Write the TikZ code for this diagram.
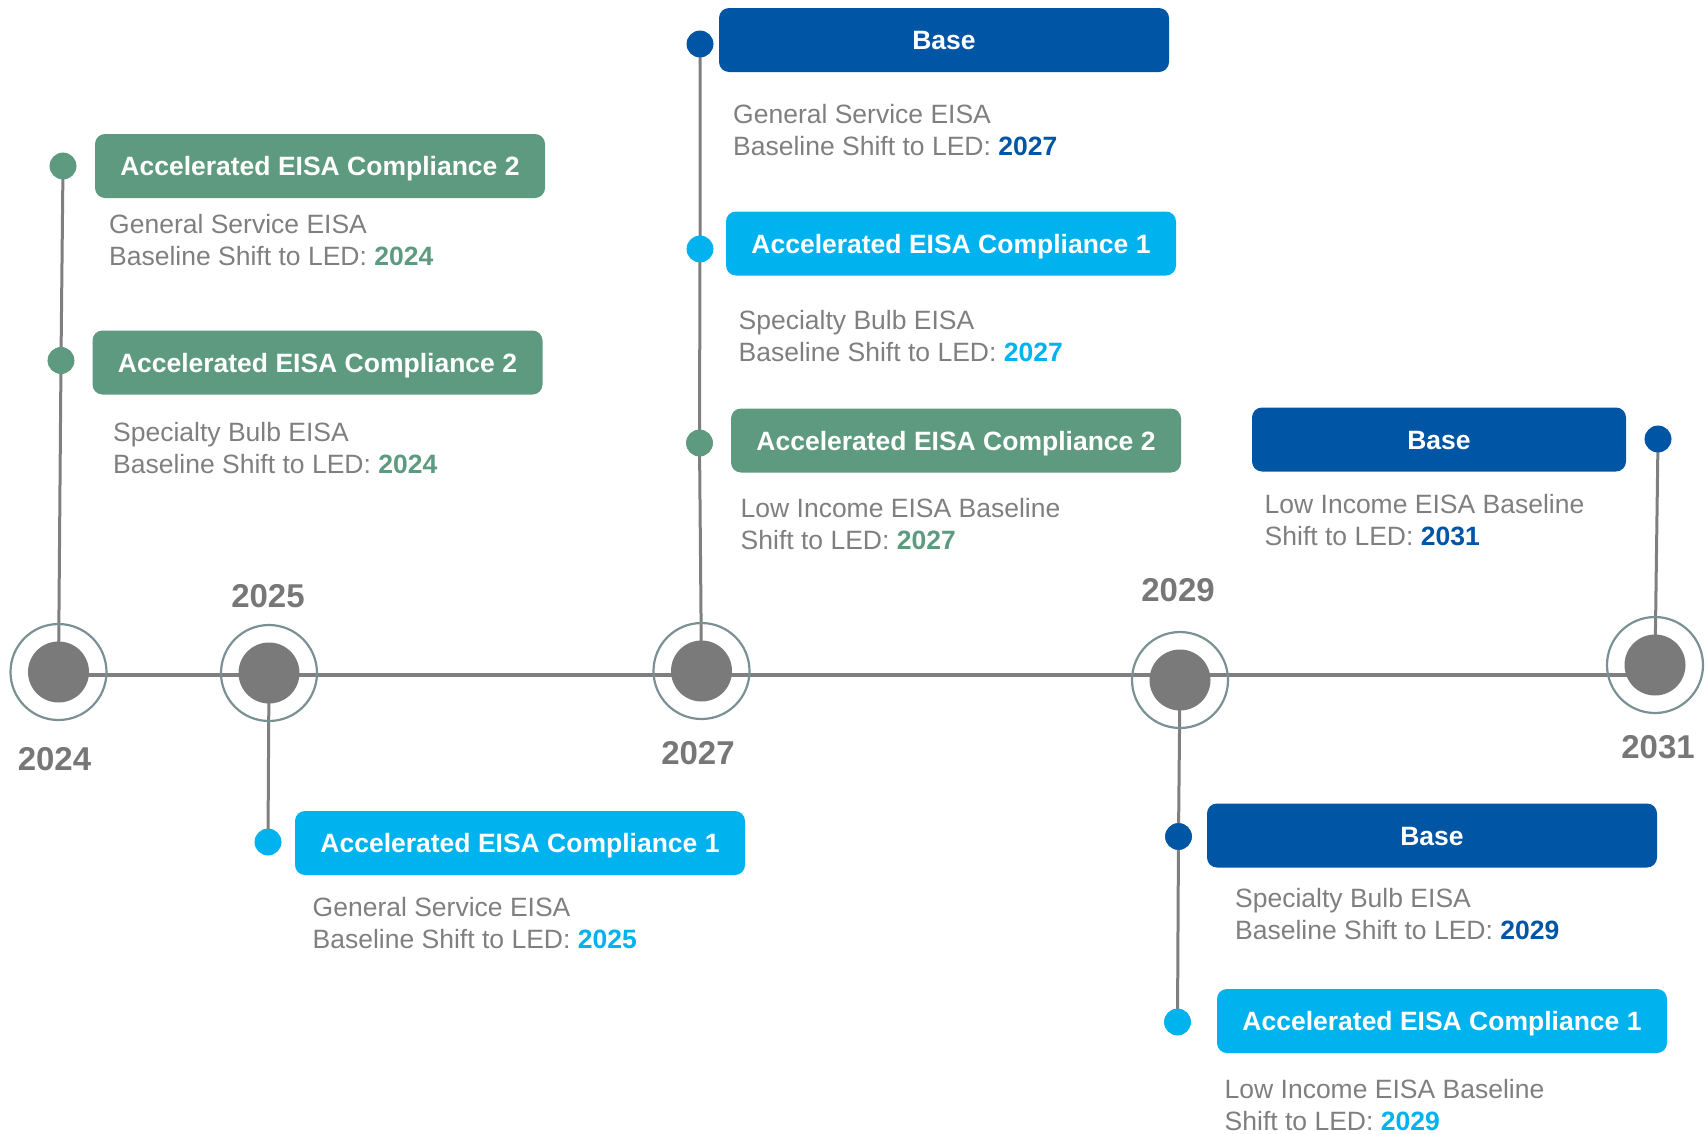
\documentclass[tikz,border=0pt]{standalone}
\usepackage{fontspec}
\setmainfont{Liberation Sans}
\definecolor{cgreen}{HTML}{5E9A7F}
\definecolor{cblue}{HTML}{0055A5}
\definecolor{ccyan}{HTML}{00B2EE}
\definecolor{txtgray}{HTML}{7F7F7F}
\definecolor{linegray}{HTML}{7F7F7F}
\definecolor{hubgray}{HTML}{7A7A7A}
\definecolor{ringc}{HTML}{7A9194}
\definecolor{yeargray}{HTML}{777777}
\begin{document}
\begin{tikzpicture}[x=1pt,y=-1pt,
  boxnode/.style={rounded corners=10pt, minimum width=450pt, minimum height=64pt, inner sep=0pt, text height=19pt, text depth=0pt, text=white, font=\fontsize{26.5}{32}\selectfont\bfseries},
  desc/.style={anchor=north west, align=left, inner sep=0pt, text=txtgray, font=\fontsize{26.5}{32}\selectfont},
  dotnode/.style={circle, minimum size=26.6pt, inner sep=0pt},
  ringnode/.style={circle, draw=ringc, line width=2.2pt, minimum size=96pt, inner sep=0pt},
  hubnode/.style={circle, fill=hubgray, minimum size=61pt, inner sep=0pt},
  yearnode/.style={inner sep=0pt, text=yeargray, font=\fontsize{33}{36}\selectfont\bfseries},
  hline/.style={draw=linegray, line width=4pt},
  vline/.style={draw=linegray, line width=3pt}
]
\useasboundingbox (0,0) rectangle (1708,1133);

% hubs (coordinates)
\coordinate (h24) at (58.5,672);
\coordinate (h25) at (269,673);
\coordinate (h27) at (701.5,671);
\coordinate (h29) at (1180,680);
\coordinate (h31) at (1655,665);

% end points of horizontal line
\coordinate (lstart) at (58.5,675);
\coordinate (lend) at (1655,675);
\draw[hline] (lstart) -- (lend);

% dots (positions)
\node[dotnode, fill=cgreen] (d24a) at (63,166) {};
\node[dotnode, fill=cgreen] (d24b) at (61,360.5) {};
\node[dotnode, fill=ccyan] (d25) at (268,842) {};
\node[dotnode, fill=cblue] (d27a) at (700,44) {};
\node[dotnode, fill=ccyan] (d27b) at (700,249) {};
\node[dotnode, fill=cgreen] (d27c) at (699.5,443) {};
\node[dotnode, fill=cblue] (d29a) at (1178.5,836.5) {};
\node[dotnode, fill=ccyan] (d29b) at (1177.5,1022) {};
\node[dotnode, fill=cblue] (d31) at (1658,439) {};

% vertical lines
\draw[vline] (h24) -- (d24b.center) -- (d24a.center);
\draw[vline] (h25) -- (d25.center);
\draw[vline] (h27) -- (d27c.center) -- (d27b.center) -- (d27a.center);
\draw[vline] (h29) -- (d29a.center) -- (d29b.center);
\draw[vline] (h31) -- (d31.center);

% rings and hubs
\node[ringnode] (r24) at (h24) {};
\node[ringnode] (r25) at (h25) {};
\node[ringnode] (r27) at (h27) {};
\node[ringnode] (r29) at (h29) {};
\node[ringnode] (r31) at (h31) {};
\node[hubnode] (c24) at (h24) {};
\node[hubnode] (c25) at (h25) {};
\node[hubnode] (c27) at (h27) {};
\node[hubnode] (c29) at (h29) {};
\node[hubnode] (c31) at (h31) {};

% redraw dots on top of lines
\node[dotnode, fill=cgreen] at (d24a) {};
\node[dotnode, fill=cgreen] at (d24b) {};
\node[dotnode, fill=ccyan] at (d25) {};
\node[dotnode, fill=cblue] at (d27a) {};
\node[dotnode, fill=ccyan] at (d27b) {};
\node[dotnode, fill=cgreen] at (d27c) {};
\node[dotnode, fill=cblue] at (d29a) {};
\node[dotnode, fill=ccyan] at (d29b) {};
\node[dotnode, fill=cblue] at (d31) {};

% years
\node[yearnode] (y24) at (54.5,759) {2024};
\node[yearnode] (y25) at (268,596) {2025};
\node[yearnode] (y27) at (698,753) {2027};
\node[yearnode] (y29) at (1178,590) {2029};
\node[yearnode] (y31) at (1658,747) {2031};

% boxes
\node[boxnode, fill=cgreen] (b24a) at (320,166) {Accelerated EISA Compliance 2};
\node[boxnode, fill=cgreen] (b24b) at (317.5,362.5) {Accelerated EISA Compliance 2};
\node[boxnode, fill=ccyan] (b25) at (520,843) {Accelerated EISA Compliance 1};
\node[boxnode, fill=cblue] (b27a) at (944,40) {Base};
\node[boxnode, fill=ccyan] (b27b) at (951,243.5) {Accelerated EISA Compliance 1};
\node[boxnode, fill=cgreen] (b27c) at (956,440.5) {Accelerated EISA Compliance 2};
\node[boxnode, fill=cblue, minimum width=374pt] (b31) at (1439,439.5) {Base};
\node[boxnode, fill=cblue] (b29a) at (1432,835.5) {Base};
\node[boxnode, fill=ccyan] (b29b) at (1442,1021) {Accelerated EISA Compliance 1};

% descriptions
\node[desc] (t24a) at (109,214) {General Service EISA\\Baseline Shift to LED: \textbf{\textcolor{cgreen}{2024}}};
\node[desc] (t24b) at (113,422) {Specialty Bulb EISA\\Baseline Shift to LED: \textbf{\textcolor{cgreen}{2024}}};
\node[desc] (t25) at (312.5,897) {General Service EISA\\Baseline Shift to LED: \textbf{\textcolor{ccyan}{2025}}};
\node[desc] (t27a) at (733,104) {General Service EISA\\Baseline Shift to LED: \textbf{\textcolor{cblue}{2027}}};
\node[desc] (t27b) at (738.5,310) {Specialty Bulb EISA\\Baseline Shift to LED: \textbf{\textcolor{ccyan}{2027}}};
\node[desc] (t27c) at (740.5,498) {Low Income EISA Baseline\\Shift to LED: \textbf{\textcolor{cgreen}{2027}}};
\node[desc] (t31) at (1264.5,494) {Low Income EISA Baseline\\Shift to LED: \textbf{\textcolor{cblue}{2031}}};
\node[desc] (t29a) at (1235,888) {Specialty Bulb EISA\\Baseline Shift to LED: \textbf{\textcolor{cblue}{2029}}};
\node[desc] (t29b) at (1224.5,1079) {Low Income EISA Baseline\\Shift to LED: \textbf{\textcolor{ccyan}{2029}}};
\end{tikzpicture}
\end{document}
